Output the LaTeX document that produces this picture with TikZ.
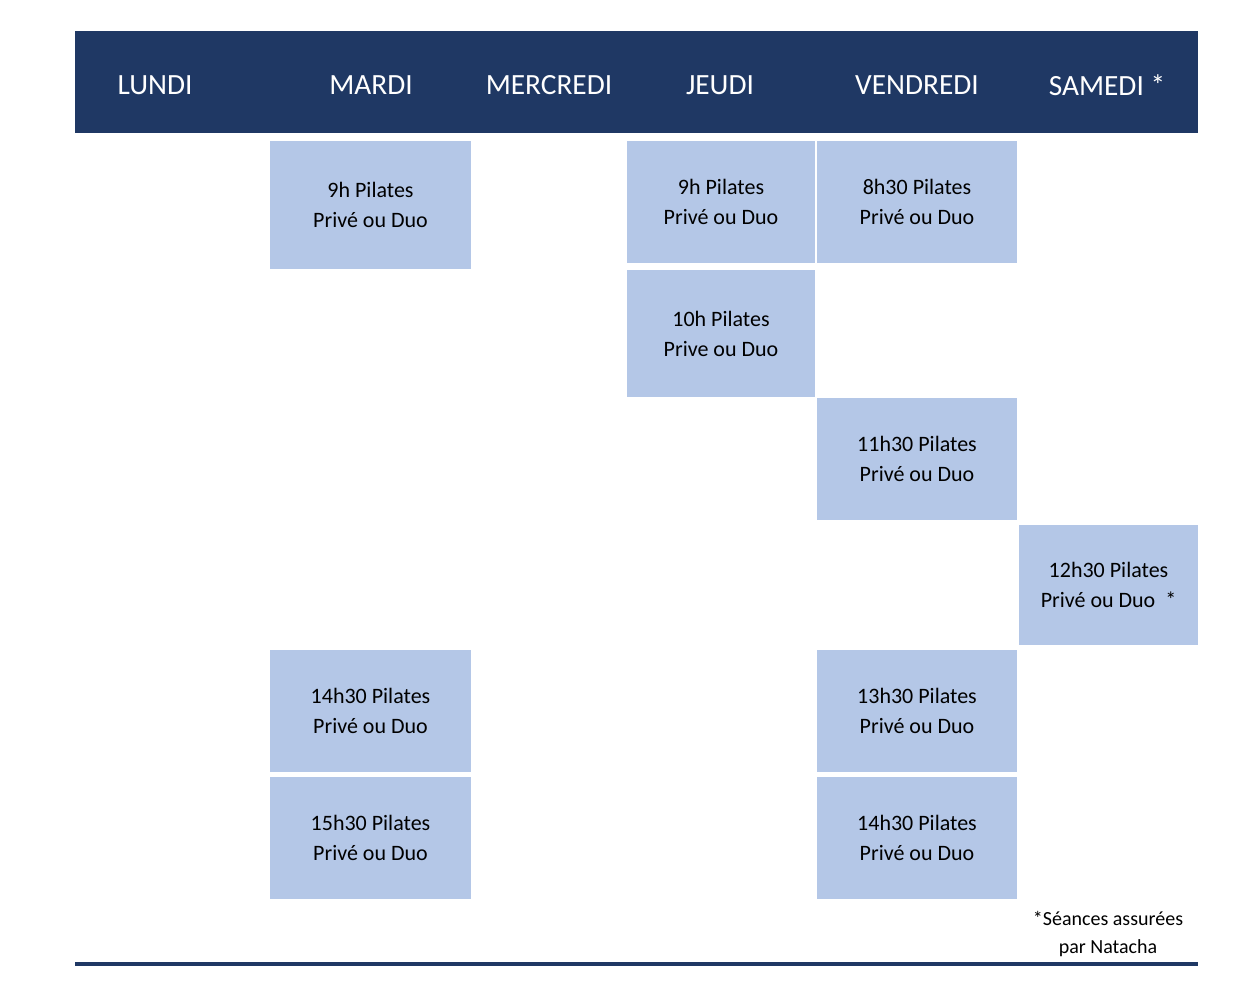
\documentclass[tikz,border=0pt]{standalone}
\usepackage{fontspec}
\setmainfont{Carlito}
\definecolor{navy}{HTML}{1F3864}
\definecolor{slot}{HTML}{B4C7E7}
\tikzset{
  day/.style={text=white, font=\fontsize{22}{26}\selectfont},
  slotbox/.style={fill=slot, draw=none},
  slottext/.style={align=center, font=\fontsize{16.5}{22.5}\selectfont}
}
\newcommand{\slot}[6]{%
  \fill[slotbox] (#1,#3) rectangle (#2,#4);
  \node[slottext] (#5) at ({(#1+#2)/2},{(#3+#4)/2}) {#6};}
\begin{document}
\begin{tikzpicture}[x=0.75pt,y=-0.75pt]
  \useasboundingbox (0,0) rectangle (1234,998);
  % header
  \fill[navy] (75,31) rectangle (1198,133);
  \node[day] (lun) at (155,85) {LUNDI};
  \node[day] (mar) at (371,85) {MARDI};
  \node[day] (mer) at (549,85) {MERCREDI};
  \node[day] (jeu) at (720,85) {JEUDI};
  \node[day] (ven) at (917,85) {VENDREDI};
  \node[day] (sam) at (1107,85) {SAMEDI *};
  % slots
  \slot{270}{471}{141}{269}{mar1}{9h Pilates\\Privé ou Duo}
  \slot{627}{815}{141}{263}{jeu1}{9h Pilates\\Privé ou Duo}
  \slot{817}{1017}{141}{263}{ven1}{8h30 Pilates\\Privé ou Duo}
  \slot{627}{815}{270}{397}{jeu2}{10h Pilates\\Prive ou Duo}
  \slot{817}{1017}{398}{520}{ven2}{11h30 Pilates\\Privé ou Duo}
  \slot{1019}{1198}{525}{645}{sam1}{12h30 Pilates\\Privé ou Duo\ \ *}
  \slot{270}{471}{650}{772}{mar2}{14h30 Pilates\\Privé ou Duo}
  \slot{817}{1017}{650}{772}{ven3}{13h30 Pilates\\Privé ou Duo}
  \slot{270}{471}{777}{899}{mar3}{15h30 Pilates\\Privé ou Duo}
  \slot{817}{1017}{777}{899}{ven4}{14h30 Pilates\\Privé ou Duo}
  % footnote and bottom rule
  \node[slottext, font=\fontsize{15}{21}\selectfont] (note) at (1108,934) {*Séances assurées\\par Natacha};
  \fill[navy] (75,962) rectangle (1198,966);
\end{tikzpicture}
\end{document}
